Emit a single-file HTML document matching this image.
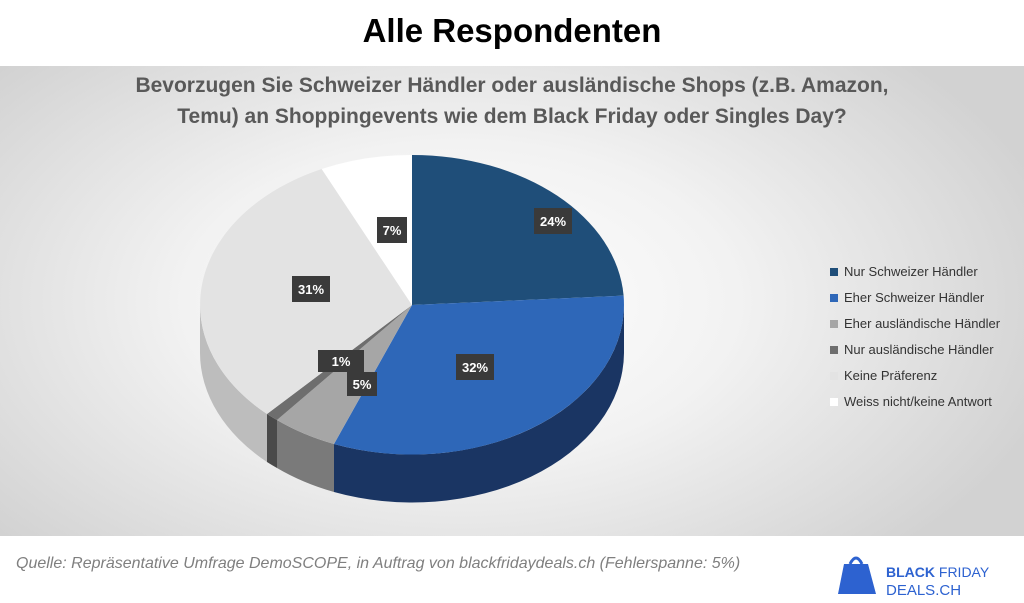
<!DOCTYPE html>
<html><head><meta charset="utf-8"><style>
body{margin:0;width:1024px;height:603px;background:#fff;font-family:"Liberation Sans",sans-serif;position:relative;overflow:hidden}
.t{position:absolute;left:0;width:1024px;text-align:center;top:12px;font-size:33px;font-weight:bold;color:#000}
.band{position:absolute;left:0;top:66px;width:1024px;height:470px;background:radial-gradient(ellipse 60% 75% at 45% 50%,#fff 0%,#f2f2f2 45%,#d2d2d2 100%)}
.q{position:absolute;left:0;width:1024px;top:70px;text-align:center;font-size:21px;font-weight:bold;color:#595959;line-height:31px}
.lg{position:absolute;left:830px;font-size:13px;color:#333}
.lg span{display:inline-block;width:8px;height:8px;margin-right:6px;vertical-align:0}
.f{position:absolute;left:16px;top:555px;font-size:16px;font-style:italic;color:#7f7f7f}
</style></head><body>
<div class="t">Alle Respondenten</div>
<div class="band"></div>
<div class="q">Bevorzugen Sie Schweizer Händler oder ausländische Shops (z.B. Amazon,<br>Temu) an Shoppingevents wie dem Black Friday oder Singles Day?</div>
<svg width="1024" height="603" style="position:absolute;left:0;top:0">
<g>
<path d="M624,305 A212,150 0 0 1 334,444 L334,492 A212,150 0 0 0 624,353Z" fill="#1a3563"/>
<path d="M334,444 A212,150 0 0 1 277,420 L277,468 A212,150 0 0 0 334,492Z" fill="#7a7a7a"/>
<path d="M277,420 A212,150 0 0 1 267,414 L267,462 A212,150 0 0 0 277,468Z" fill="#4a4a4a"/>
<path d="M267,414 A212,150 0 0 1 200,305 L200,353 A212,150 0 0 0 267,462Z" fill="#bdbdbd"/>
<path d="M412,305 L412,155 A212,150 0 0 1 623.6,295.6Z" fill="#1f4e79"/>
<path d="M412,305 L623.6,295.6 A212,150 0 0 1 334,444Z" fill="#2e67b8"/>
<path d="M412,305 L334,444 A212,150 0 0 1 277,420Z" fill="#a6a6a6"/>
<path d="M412,305 L277,420 A212,150 0 0 1 267,414Z" fill="#6e6e6e"/>
<path d="M412,305 L267,414 A212,150 0 0 1 321.7,169Z" fill="#e3e3e3"/>
<path d="M412,305 L321.7,169 A212,150 0 0 1 412,155Z" fill="#fff"/>
</g>
<g font-family="Liberation Sans" font-weight="bold" font-size="13" fill="#fff" text-anchor="middle">
<rect x="534" y="208" width="38" height="26" fill="#3a3a3a"/><text x="553" y="226">24%</text>
<rect x="377" y="217" width="30" height="26" fill="#3a3a3a"/><text x="392" y="235">7%</text>
<rect x="292" y="276" width="38" height="26" fill="#3a3a3a"/><text x="311" y="294">31%</text>
<rect x="318" y="350" width="46" height="22" fill="#3a3a3a"/><text x="341" y="366">1%</text>
<rect x="347" y="372" width="30" height="24" fill="#3a3a3a"/><text x="362" y="389">5%</text>
<rect x="456" y="354" width="38" height="26" fill="#3a3a3a"/><text x="475" y="372">32%</text>
</g>
<g transform="translate(838,556)">
<path d="M6,8 L30,8 L38,38 L0,38Z" fill="#2d62d0"/>
<path d="M12,8 Q18,-4 24,8" fill="none" stroke="#2d62d0" stroke-width="3"/>
<text x="48" y="21" font-family="Liberation Sans" font-size="14" fill="#2d62d0"><tspan font-weight="bold">BLACK</tspan> FRIDAY</text>
<text x="48" y="39" font-family="Liberation Sans" font-size="15" fill="#2d62d0">DEALS.CH</text>
</g>
</svg>
<div class="lg" style="top:264px"><span style="background:#1f4e79"></span>Nur Schweizer Händler</div>
<div class="lg" style="top:290px"><span style="background:#2e67b8"></span>Eher Schweizer Händler</div>
<div class="lg" style="top:316px"><span style="background:#a6a6a6"></span>Eher ausländische Händler</div>
<div class="lg" style="top:342px"><span style="background:#6e6e6e"></span>Nur ausländische Händler</div>
<div class="lg" style="top:368px"><span style="background:#e3e3e3"></span>Keine Präferenz</div>
<div class="lg" style="top:394px"><span style="background:#fff"></span>Weiss nicht/keine Antwort</div>
<div class="f">Quelle: Repräsentative Umfrage DemoSCOPE, in Auftrag von blackfridaydeals.ch (Fehlerspanne: 5%)</div>
</body></html>
